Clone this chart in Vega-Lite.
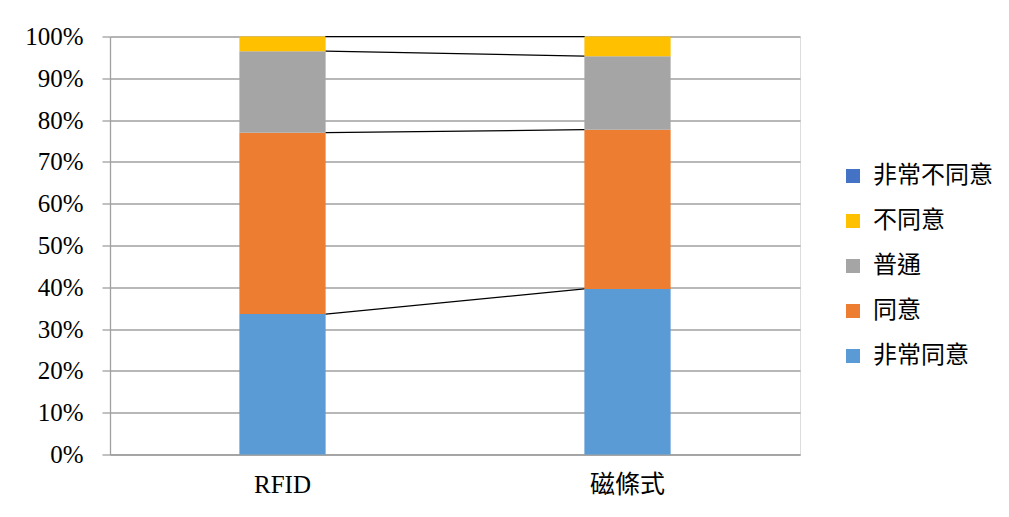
{
  "$schema": "https://vega.github.io/schema/vega-lite/v6.json",
  "autosize": "none",
  "width": 690,
  "height": 418,
  "padding": {"left": 110, "top": 36.5, "right": 209, "bottom": 62.5},
  "background": "white",
  "data": {
    "values": [
      {"cat": "RFID", "level": "非常同意", "rank": 1, "value": 33.6},
      {"cat": "RFID", "level": "同意", "rank": 2, "value": 43.4},
      {"cat": "RFID", "level": "普通", "rank": 3, "value": 19.5},
      {"cat": "RFID", "level": "不同意", "rank": 4, "value": 3.5},
      {"cat": "RFID", "level": "非常不同意", "rank": 5, "value": 0},
      {"cat": "磁條式", "level": "非常同意", "rank": 1, "value": 39.6},
      {"cat": "磁條式", "level": "同意", "rank": 2, "value": 38.1},
      {"cat": "磁條式", "level": "普通", "rank": 3, "value": 17.6},
      {"cat": "磁條式", "level": "不同意", "rank": 4, "value": 4.7},
      {"cat": "磁條式", "level": "非常不同意", "rank": 5, "value": 0}
    ]
  },
  "layer": [
    {
      "mark": {"type": "bar", "width": {"band": 0.25}},
      "encoding": {
        "x": {
          "field": "cat",
          "type": "nominal",
          "sort": ["RFID", "磁條式"],
          "scale": {"domain": ["RFID", "磁條式"], "paddingInner": 0, "paddingOuter": 0},
          "axis": {
            "title": null,
            "labelAngle": 0,
            "labelFont": "Liberation Serif, Noto Sans CJK TC",
            "labelFontSize": 25,
            "labelColor": "black",
            "labelPadding": 18,
            "ticks": false,
            "domainColor": "#a0a0a0",
            "domainWidth": 1.3,
            "grid": false
          }
        },
        "y": {
          "field": "value",
          "type": "quantitative",
          "stack": "normalize",
          "scale": {"domain": [0, 1], "nice": false},
          "axis": {
            "title": null,
            "values": [0, 0.1, 0.2, 0.3, 0.4, 0.5, 0.6, 0.7, 0.8, 0.9, 1],
            "format": ".0%",
            "labelFont": "Liberation Serif",
            "labelFontSize": 25,
            "labelColor": "black",
            "labelPadding": 19,
            "tickSize": 8,
            "tickColor": "#a0a0a0",
            "tickWidth": 1.3,
            "domainColor": "#a0a0a0",
            "domainWidth": 1.3,
            "grid": true,
            "gridColor": "#a0a0a0",
            "gridWidth": 1.3
          }
        },
        "color": {
          "field": "level",
          "type": "nominal",
          "scale": {
            "domain": ["非常不同意", "不同意", "普通", "同意", "非常同意"],
            "range": ["#4472C4", "#FFC000", "#A5A5A5", "#ED7D31", "#5B9BD5"]
          },
          "legend": {
            "title": null,
            "orient": "none",
            "legendX": 731,
            "legendY": 127.5,
            "symbolType": "square",
            "symbolSize": 196,
            "symbolStrokeWidth": 0,
            "labelFont": "Noto Sans CJK TC",
            "labelFontSize": 24,
            "labelColor": "black",
            "labelOffset": 8,
            "rowPadding": 21
          }
        },
        "order": {"field": "rank", "type": "quantitative"}
      }
    },
    {
      "transform": [
        {
          "stack": "value",
          "groupby": ["cat"],
          "sort": [{"field": "rank", "order": "ascending"}],
          "offset": "normalize",
          "as": ["lo", "hi"]
        },
        {"pivot": "cat", "value": "hi", "groupby": ["level"]}
      ],
      "mark": {"type": "rule", "color": "black", "strokeWidth": 1.2},
      "encoding": {
        "x": {"datum": "RFID", "type": "nominal", "bandPosition": 0.625},
        "x2": {"datum": "磁條式", "bandPosition": 0.375},
        "y": {"field": "RFID", "type": "quantitative"},
        "y2": {"field": "磁條式"}
      }
    }
  ]
}
